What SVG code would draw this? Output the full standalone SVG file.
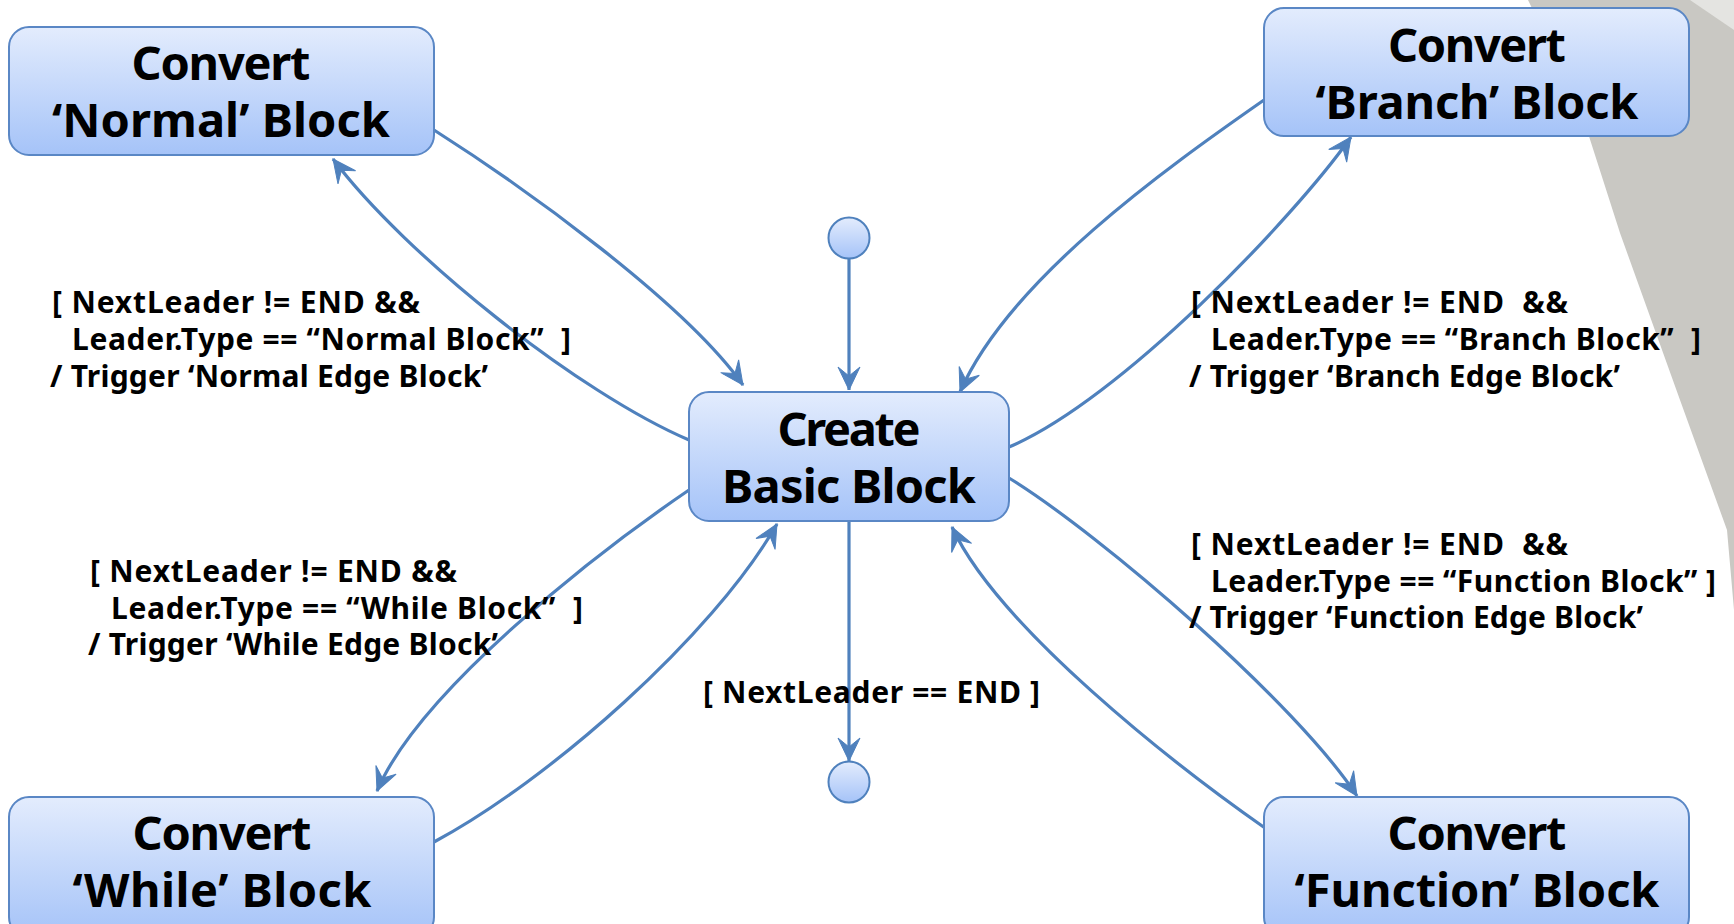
<svg xmlns="http://www.w3.org/2000/svg" width="1734" height="924" viewBox="0 0 1734 924">
<defs>
<linearGradient id="boxfill" x1="0" y1="0" x2="0" y2="1">
<stop offset="0" stop-color="#e3ecfd"/>
<stop offset="1" stop-color="#a5c3f8"/>
</linearGradient>
<marker id="arr" markerUnits="userSpaceOnUse" viewBox="-26 -14 28 28" refX="0" refY="0" markerWidth="28" markerHeight="28" orient="auto">
<path d="M0,0 L-23,-11 L-14,0 L-23,11 Z" fill="#4f81bd" stroke="#4f81bd" stroke-width="1" stroke-linejoin="miter"/>
</marker>
<style>
.box{fill:url(#boxfill);stroke:#5a87c5;stroke-width:2}
.dot{fill:url(#boxfill);stroke:#4f81bd;stroke-width:2}
.edge{fill:none;stroke:#4f81bd;stroke-width:3.2;marker-end:url(#arr)}
.title{font-family:"Noto Sans","Open Sans","DejaVu Sans",sans-serif;font-weight:bold;font-size:47px;fill:#000;text-anchor:middle}
.lbl{font-family:"Noto Sans","Open Sans","DejaVu Sans",sans-serif;font-weight:bold;font-size:30px;fill:#000}
</style>
</defs>
<rect x="0" y="0" width="1734" height="924" fill="#ffffff"/>
<g id="background">
<polygon points="1528,0 1734,0 1734,610 1727,530 1680,400 1620,233 1578,102" fill="#c9c8c3"/>
<polygon points="1690,0 1734,0 1734,30" fill="#e4e4e1"/>
</g>
<g id="connectors">
<path class="edge" d="M849,259 L849,390"/>
<path class="edge" d="M849,521 L849,761"/>
<path class="edge" d="M434,130 C525,188 684,302 743,385"/>
<path class="edge" d="M689,440 C579,393 405,255 333,159"/>
<path class="edge" d="M1264,100 C1165,169 1009,280 960,392"/>
<path class="edge" d="M1009,447 C1120,400 1293,219 1351,137"/>
<path class="edge" d="M689,490 C598,552 420,690 377,791"/>
<path class="edge" d="M434,842 C548,781 712,637 777,524"/>
<path class="edge" d="M1009,478 C1103,536 1297,704 1357,796"/>
<path class="edge" d="M1265,828 C1175,765 998,627 952,527"/>
</g>
<g id="start">
<circle class="dot" cx="849" cy="238" r="20.5"/>
</g>
<g id="end">
<circle class="dot" cx="849" cy="782" r="20.5"/>
</g>
<g id="normal">
<rect class="box" x="9" y="27" width="425" height="128" rx="20" ry="20"/>
<text class="title" x="221" y="80" textLength="179">Convert</text>
<text class="title" x="221" y="137" textLength="338">‘Normal’ Block</text>
</g>
<g id="branch">
<rect class="box" x="1264" y="8" width="425" height="128" rx="20" ry="20"/>
<text class="title" x="1477" y="62" textLength="178">Convert</text>
<text class="title" x="1477" y="119" textLength="323">‘Branch’ Block</text>
</g>
<g id="create">
<rect class="box" x="689" y="392" width="320" height="129" rx="20" ry="20"/>
<text class="title" x="849" y="446" textLength="143">Create</text>
<text class="title" x="849" y="503" textLength="254">Basic Block</text>
</g>
<g id="while">
<rect class="box" x="9" y="797" width="425" height="140" rx="20" ry="20"/>
<text class="title" x="222" y="850" textLength="179">Convert</text>
<text class="title" x="222" y="907" textLength="299">‘While’ Block</text>
</g>
<g id="function">
<rect class="box" x="1264" y="797" width="425" height="140" rx="20" ry="20"/>
<text class="title" x="1477" y="850" textLength="179">Convert</text>
<text class="title" x="1477" y="907" textLength="365">‘Function’ Block</text>
</g>
<g id="label-normal">
<text class="lbl" xml:space="preserve" x="52" y="313" textLength="368">[ NextLeader != END &amp;&amp;</text>
<text class="lbl" xml:space="preserve" x="72" y="350" textLength="499">Leader.Type == “Normal Block”  ]</text>
<text class="lbl" xml:space="preserve" x="50" y="387" textLength="438">/ Trigger ‘Normal Edge Block’</text>
</g>
<g id="label-branch">
<text class="lbl" xml:space="preserve" x="1191" y="313" textLength="377">[ NextLeader != END  &amp;&amp;</text>
<text class="lbl" xml:space="preserve" x="1211" y="350" textLength="490">Leader.Type == “Branch Block”  ]</text>
<text class="lbl" xml:space="preserve" x="1189" y="387" textLength="431">/ Trigger ‘Branch Edge Block’</text>
</g>
<g id="label-while">
<text class="lbl" xml:space="preserve" x="90" y="582" textLength="367">[ NextLeader != END &amp;&amp;</text>
<text class="lbl" xml:space="preserve" x="111" y="619" textLength="472">Leader.Type == “While Block”  ]</text>
<text class="lbl" xml:space="preserve" x="88" y="655" textLength="410">/ Trigger ‘While Edge Block’</text>
</g>
<g id="label-function">
<text class="lbl" xml:space="preserve" x="1191" y="555" textLength="377">[ NextLeader != END  &amp;&amp;</text>
<text class="lbl" xml:space="preserve" x="1211" y="592" textLength="505">Leader.Type == “Function Block” ]</text>
<text class="lbl" xml:space="preserve" x="1189" y="628" textLength="454">/ Trigger ‘Function Edge Block’</text>
</g>
<g id="label-end">
<text class="lbl" xml:space="preserve" x="703" y="703" textLength="337">[ NextLeader == END ]</text>
</g>
</svg>
